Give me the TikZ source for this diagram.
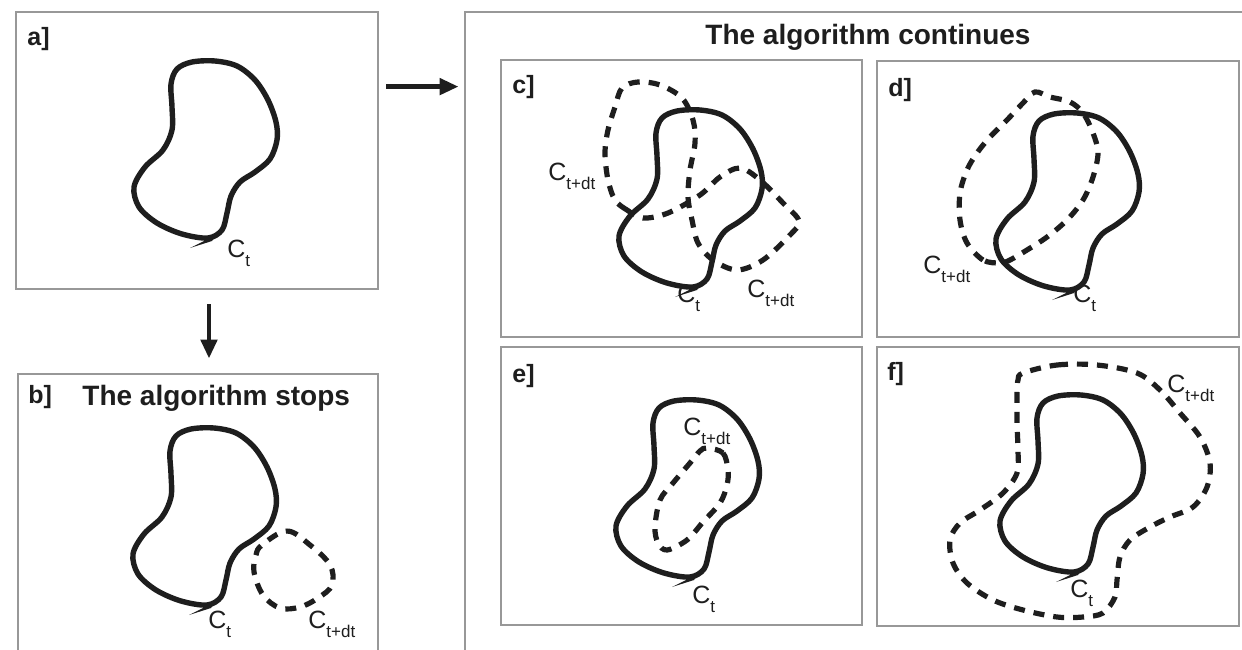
\documentclass[tikz,border=0pt]{standalone}
\usepackage{fontspec}
\setmainfont{Liberation Sans}
\usetikzlibrary{arrows.meta}

\definecolor{framegray}{RGB}{152,152,152}
\definecolor{ink}{RGB}{30,30,30}

\tikzset{
  box/.style={draw=framegray, line width=1.4pt, rectangle, inner sep=0pt},
  front/.style={draw=ink, line width=2.7pt, line join=round},
  moved/.style={draw=ink, line width=2.6pt, dash pattern=on 5.5pt off 4.5pt},
  flow/.style={draw=ink, line width=2.4pt, -{Triangle[length=9.5pt,width=8pt]}},
  tag/.style={anchor=base west, inner sep=0pt, text=ink, font=\fontsize{12.5}{14}\selectfont\bfseries},
  heading/.style={anchor=base west, inner sep=0pt, text=ink, font=\fontsize{14}{16}\selectfont\bfseries},
  lab/.style={anchor=base west, inner sep=0pt, text=ink, font=\fontsize{12.5}{14}\selectfont}
}

\newcommand{\Cs}[1]{C\raisebox{-4.5pt}{\fontsize{8.5}{9}\selectfont #1}}

\newcommand{\curveCt}[1]{%
  \begin{scope}[shift={#1}]
    \draw[front] plot[smooth cycle, tension=0.55] coordinates {
      (2,-2) (7,-19) (11,-36) (20,-50) (35,-60) (50,-73) (57,-92) (56,-110)
      (48,-132) (35,-152) (17,-166) (-5,-171) (-28,-170) (-43,-163) (-49,-148)
      (-48,-125) (-48,-102) (-57,-82) (-75,-65) (-86,-45) (-81,-25) (-63,-9)
      (-38,2) (-12,6)};
    \fill[ink] (-30,16) -- (-4,3) -- (-8,9) -- cycle;
  \end{scope}}

\begin{document}
\begin{tikzpicture}[x=0.5pt,y=-0.5pt]
\useasboundingbox (0,0) rectangle (1242,649);
\clip (0,0) rectangle (1242,649);

\node[box, minimum width=181pt, minimum height=138.5pt] (pa) at (197,150.5) {};
\node[box, minimum width=180pt, minimum height=163pt] (pb) at (198,537) {};
\node[box, minimum width=412.5pt, minimum height=344pt] (big) at (877.5,356) {};
\node[box, minimum width=180.5pt, minimum height=138.5pt] (pc) at (681.5,198.5) {};
\node[box, minimum width=181pt, minimum height=138pt] (pd) at (1058,199) {};
\node[box, minimum width=180.5pt, minimum height=139pt] (pe) at (681.5,486) {};
\node[box, minimum width=181pt, minimum height=139.5pt] (pf) at (1058,486.5) {};

\node[tag] (ta) at (27,45) {a]};
\node[tag] (tb) at (28,403) {b]};
\node[tag] (tc) at (512,93) {c]};
\node[tag] (td) at (888,96) {d]};
\node[tag] (te) at (512,382) {e]};
\node[tag] (tf) at (887,380) {f]};

\node[heading] (stops) at (82,405) {The algorithm stops};
\node[heading] (goes) at (705,44) {The algorithm continues};

\draw[flow] ([shift={(3.5pt,-38pt)}]pa.north east) -- ([shift={(-2.5pt,-38pt)}]big.north west);
\draw[flow] ([shift={(6pt,-7pt)}]pa.south) -- ([shift={(5.5pt,7pt)}]pb.north);

\curveCt{(220,232)}
\curveCt{(219,599)}
\curveCt{(705,281)}
\curveCt{(1082,284)}
\curveCt{(702,571)}
\curveCt{(1086,566)}

\draw[moved] plot[smooth cycle, tension=0.6] coordinates {
  (262,545) (287,531) (310,545) (330,565) (332,585) (318,598) (300,607)
  (280,608) (263,595) (254,572) (256,555)};

\draw[moved] plot[smooth cycle, tension=0.55] coordinates {
  (643,218) (627,210) (615,200) (608,180) (605,153) (608,130) (615,107)
  (622,88) (638,82) (660,85) (682,98) (693,120) (695,143) (690,170)
  (688,197) (692,220) (698,243) (713,260) (737,270) (763,260) (790,235)
  (799,221) (783,203) (760,180) (740,168) (720,177) (700,195) (668,213)};

\draw[moved] plot[smooth cycle, tension=0.55] coordinates {
  (1000,263) (983,260) (967,243) (960,220) (960,193) (967,170) (977,153)
  (990,137) (1007,120) (1023,103) (1035,92) (1050,97) (1070,102) (1083,113)
  (1093,133) (1098,153) (1093,177) (1083,200) (1067,220) (1047,237)
  (1027,250) (1010,260)};

\draw[moved] plot[smooth cycle, tension=0.55] coordinates {
  (707,448) (723,453) (728,470) (727,485) (720,503) (703,522) (687,540)
  (667,550) (658,543) (655,527) (660,500) (673,483) (690,463) (700,451)};

\draw[moved] plot[smooth cycle, tension=0.55] coordinates {
  (1023,373) (1057,365) (1097,365) (1137,373) (1160,390) (1180,413)
  (1200,437) (1210,463) (1207,487) (1193,507) (1170,517) (1150,527)
  (1130,540) (1120,557) (1117,580) (1115,597) (1103,613) (1083,617)
  (1057,617) (1023,610) (993,600) (967,583) (953,563) (950,540) (960,523)
  (980,510) (1003,493) (1017,473) (1018,450) (1017,423) (1017,393) (1018,380)};

\node[lab] (cta) at (227,257) {\Cs{t}};
\node[lab] (ctb) at (208,628) {\Cs{t}};
\node[lab] (cdb) at (308,628) {\Cs{t+dt}};
\node[lab] (cdc1) at (548,180) {\Cs{t+dt}};
\node[lab] (ctc) at (677,302) {\Cs{t}};
\node[lab] (cdc2) at (747,297) {\Cs{t+dt}};
\node[lab] (cdd) at (923,273) {\Cs{t+dt}};
\node[lab] (ctd) at (1073,302) {\Cs{t}};
\node[lab] (cde) at (683,435) {\Cs{t+dt}};
\node[lab] (cte) at (692,603) {\Cs{t}};
\node[lab] (cdf) at (1167,392) {\Cs{t+dt}};
\node[lab] (ctf) at (1070,597) {\Cs{t}};
\end{tikzpicture}
\end{document}
